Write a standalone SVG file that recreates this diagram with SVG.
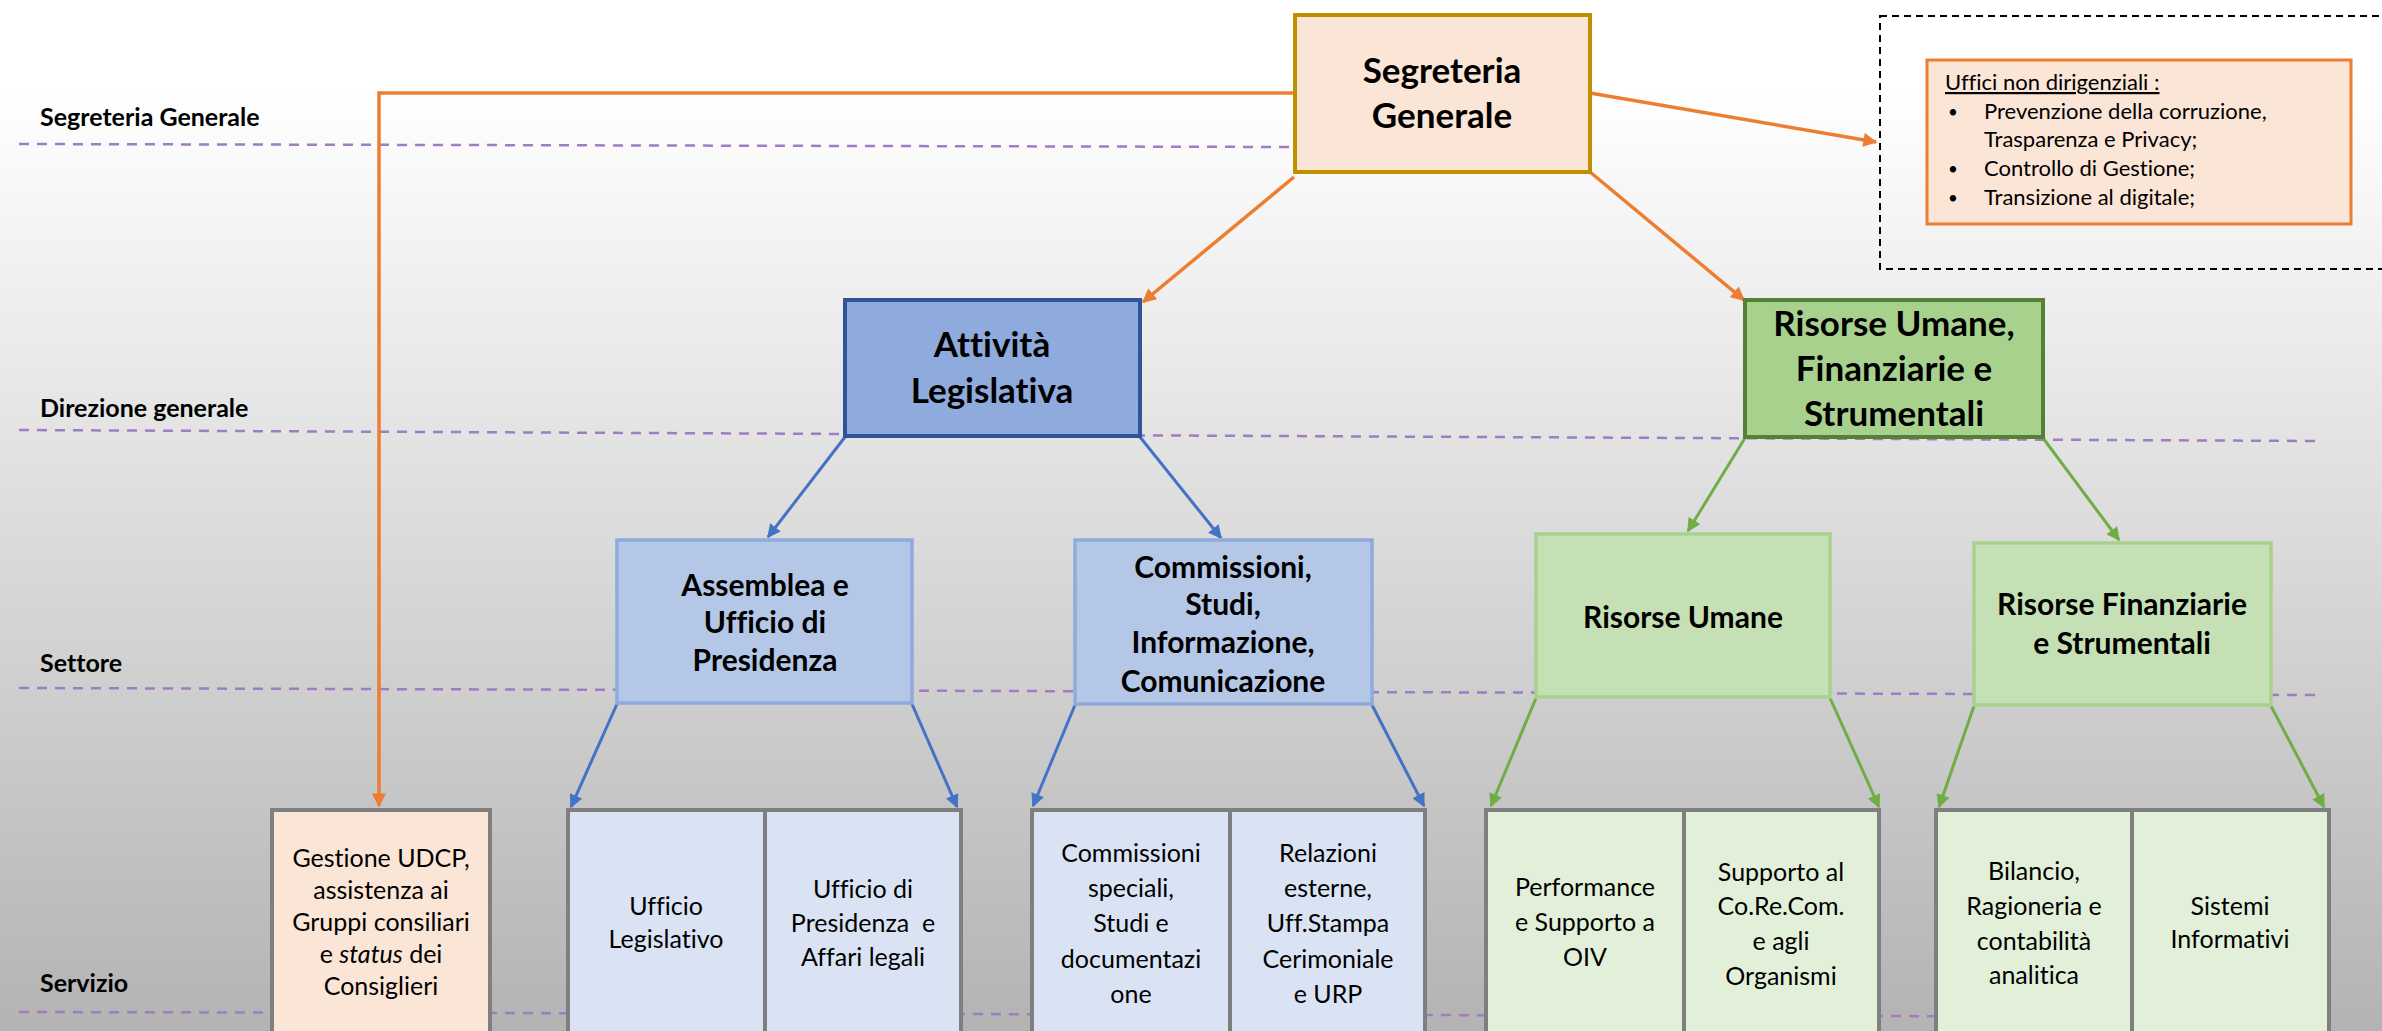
<svg xmlns="http://www.w3.org/2000/svg" width="2382" height="1031" viewBox="0 0 2382 1031">
<defs>
<linearGradient id="bg" x1="0" y1="0" x2="0" y2="1">
<stop offset="0" stop-color="#ffffff"/>
<stop offset="1" stop-color="#b3b3b3"/>
</linearGradient>
<marker id="aO" viewBox="0 0 10 10" refX="9" refY="5" markerWidth="4.5" markerHeight="4" orient="auto" markerUnits="strokeWidth"><path d="M0,0 L10,5 L0,10 z" fill="#ED7D31"/></marker>
<marker id="aB" viewBox="0 0 10 10" refX="9" refY="5" markerWidth="5" markerHeight="4.5" orient="auto" markerUnits="strokeWidth"><path d="M0,0 L10,5 L0,10 z" fill="#4472C4"/></marker>
<marker id="aG" viewBox="0 0 10 10" refX="9" refY="5" markerWidth="5" markerHeight="4.5" orient="auto" markerUnits="strokeWidth"><path d="M0,0 L10,5 L0,10 z" fill="#70AD47"/></marker>
</defs>
<style>
text{font-family:Lato,"Liberation Sans",sans-serif;fill:#000;font-variant-ligatures:none;font-feature-settings:"liga" 0,"dlig" 0}
.lvl{font-weight:700;font-size:25px}
.t1{font-weight:700;font-size:35px;text-anchor:middle}
.t2{font-weight:700;font-size:30px;text-anchor:middle}
.t3{font-weight:400;font-size:25px;text-anchor:middle}
.t4{font-weight:400;font-size:22px}
.bu{font-weight:400;font-size:17px}
.dl{stroke:#A07CC5;stroke-width:2.5;stroke-dasharray:10 8;fill:none}
.co{stroke:#ED7D31;stroke-width:3.5;fill:none;marker-end:url(#aO)}
.cb{stroke:#4472C4;stroke-width:3;fill:none;marker-end:url(#aB)}
.cg{stroke:#70AD47;stroke-width:3;fill:none;marker-end:url(#aG)}
.sv{stroke:#7F7F7F;stroke-width:4}
.pk{fill:#FBE5D6}
.lb{fill:#DAE3F3}
.lg{fill:#E2F0D9}
.st-b{fill:#B4C7E7;stroke:#8FAADC;stroke-width:3.5}
.st-g{fill:#C5E0B4;stroke:#A9D18E;stroke-width:3.5}
</style>
<rect x="0" y="0" width="2382" height="1031" fill="#ffffff"/>
<rect x="0" y="93" width="2382" height="938" fill="url(#bg)"/>

<g id="levels">
<text class="lvl" x="40" y="126">Segreteria Generale</text>
<text class="lvl" x="40" y="417">Direzione generale</text>
<text class="lvl" x="40" y="672">Settore</text>
<text class="lvl" x="40" y="992">Servizio</text>
<line class="dl" x1="19" y1="144" x2="1295" y2="147"/>
<line class="dl" x1="19" y1="430" x2="2316" y2="441"/>
<line class="dl" x1="19" y1="688" x2="2316" y2="695"/>
<line class="dl" x1="19" y1="1012" x2="2316" y2="1017"/>
</g>

<g id="connectors">
<path class="co" d="M1295,93 H379 V806"/>
<line class="co" x1="1590" y1="93" x2="1876" y2="142"/>
<line class="co" x1="1294" y1="177" x2="1143" y2="302"/>
<line class="co" x1="1590" y1="172" x2="1744" y2="300"/>
<line class="cb" x1="845" y1="437" x2="768" y2="537"/>
<line class="cb" x1="1140" y1="437" x2="1221" y2="538"/>
<line class="cb" x1="617" y1="704" x2="571" y2="807"/>
<line class="cb" x1="912" y1="704" x2="957" y2="807"/>
<line class="cb" x1="1075" y1="705" x2="1033" y2="806"/>
<line class="cb" x1="1372" y1="705" x2="1424" y2="806"/>
<line class="cg" x1="1745" y1="438" x2="1688" y2="531"/>
<line class="cg" x1="2043" y1="438" x2="2119" y2="540"/>
<line class="cg" x1="1536" y1="698" x2="1491" y2="806"/>
<line class="cg" x1="1830" y1="698" x2="1879" y2="807"/>
<line class="cg" x1="1974" y1="706" x2="1939" y2="807"/>
<line class="cg" x1="2271" y1="706" x2="2324" y2="807"/>
</g>

<g id="segreteria-generale">
<rect x="1295" y="15" width="295" height="157" fill="#FBE5D6" stroke="#BF9000" stroke-width="4"/>
<text class="t1" x="1442" y="83">Segreteria</text>
<text class="t1" x="1442" y="128">Generale</text>
</g>

<g id="uffici-non-dirigenziali">
<rect x="1880" y="16" width="540" height="253" fill="none" stroke="#000" stroke-width="2" stroke-dasharray="7 5"/>
<rect x="1927" y="60" width="424" height="164" fill="#FBE5D6" stroke="#ED7D31" stroke-width="3"/>
<text class="t4" x="1945" y="90" text-decoration="underline">Uffici non dirigenziali :</text>
<text class="bu" x="1948" y="118">•</text>
<text class="t4" x="1984" y="119">Prevenzione della corruzione,</text>
<text class="t4" x="1984" y="147">Trasparenza e Privacy;</text>
<text class="bu" x="1948" y="175">•</text>
<text class="t4" x="1984" y="176">Controllo di Gestione;</text>
<text class="bu" x="1948" y="204">•</text>
<text class="t4" x="1984" y="205">Transizione al digitale;</text>
</g>

<g id="attivita-legislativa">
<rect x="845" y="300" width="295" height="136" fill="#8FAADC" stroke="#2F5597" stroke-width="4"/>
<text class="t1" x="992" y="357">Attività</text>
<text class="t1" x="992" y="403">Legislativa</text>
</g>

<g id="risorse-umane-finanziarie-strumentali">
<rect x="1745" y="300" width="298" height="137" fill="#A9D18E" stroke="#548235" stroke-width="4"/>
<text class="t1" x="1894" y="336">Risorse Umane,</text>
<text class="t1" x="1894" y="381">Finanziarie e</text>
<text class="t1" x="1894" y="426">Strumentali</text>
</g>

<g id="assemblea-ufficio-presidenza">
<rect class="st-b" x="617" y="540" width="295" height="163"/>
<text class="t2" x="765" y="596">Assemblea e</text>
<text class="t2" x="765" y="633">Ufficio di</text>
<text class="t2" x="765" y="671">Presidenza</text>
</g>

<g id="commissioni-studi">
<rect class="st-b" x="1075" y="540" width="297" height="164"/>
<text class="t2" x="1223" y="578">Commissioni,</text>
<text class="t2" x="1223" y="615">Studi,</text>
<text class="t2" x="1223" y="653">Informazione,</text>
<text class="t2" x="1223" y="692">Comunicazione</text>
</g>

<g id="risorse-umane">
<rect class="st-g" x="1536" y="534" width="294" height="163"/>
<text class="t2" x="1683" y="628">Risorse Umane</text>
</g>

<g id="risorse-finanziarie-strumentali">
<rect class="st-g" x="1974" y="543" width="297" height="162"/>
<text class="t2" x="2122" y="615">Risorse Finanziarie</text>
<text class="t2" x="2122" y="654">e Strumentali</text>
</g>

<g id="gestione-udcp">
<rect class="sv pk" x="272" y="810" width="218" height="240"/>
<text class="t3" x="381" y="867">Gestione UDCP,</text>
<text class="t3" x="381" y="899">assistenza ai</text>
<text class="t3" x="381" y="931">Gruppi consiliari</text>
<text class="t3" x="381" y="963">e <tspan font-style="italic">status</tspan> dei</text>
<text class="t3" x="381" y="995">Consiglieri</text>
</g>

<g id="ufficio-legislativo">
<rect class="sv lb" x="568" y="810" width="197" height="240"/>
<text class="t3" x="666" y="915">Ufficio</text>
<text class="t3" x="666" y="948">Legislativo</text>
</g>

<g id="ufficio-presidenza-affari-legali">
<rect class="sv lb" x="765" y="810" width="196" height="240"/>
<text class="t3" x="863" y="898">Ufficio di</text>
<text class="t3" x="863" y="932" xml:space="preserve">Presidenza  e</text>
<text class="t3" x="863" y="966">Affari legali</text>
</g>

<g id="commissioni-speciali">
<rect class="sv lb" x="1032" y="810" width="198" height="240"/>
<text class="t3" x="1131" y="862">Commissioni</text>
<text class="t3" x="1131" y="897">speciali,</text>
<text class="t3" x="1131" y="932">Studi e</text>
<text class="t3" x="1131" y="968">documentazi</text>
<text class="t3" x="1131" y="1003">one</text>
</g>

<g id="relazioni-esterne">
<rect class="sv lb" x="1230" y="810" width="195" height="240"/>
<text class="t3" x="1328" y="862">Relazioni</text>
<text class="t3" x="1328" y="897">esterne,</text>
<text class="t3" x="1328" y="932">Uff.Stampa</text>
<text class="t3" x="1328" y="968">Cerimoniale</text>
<text class="t3" x="1328" y="1003">e URP</text>
</g>

<g id="performance-oiv">
<rect class="sv lg" x="1486" y="810" width="198" height="240"/>
<text class="t3" x="1585" y="896">Performance</text>
<text class="t3" x="1585" y="931">e Supporto a</text>
<text class="t3" x="1585" y="966">OIV</text>
</g>

<g id="supporto-corecom">
<rect class="sv lg" x="1684" y="810" width="195" height="240"/>
<text class="t3" x="1781" y="881">Supporto al</text>
<text class="t3" x="1781" y="915">Co.Re.Com.</text>
<text class="t3" x="1781" y="950">e agli</text>
<text class="t3" x="1781" y="985">Organismi</text>
</g>

<g id="bilancio-ragioneria">
<rect class="sv lg" x="1936" y="810" width="196" height="240"/>
<text class="t3" x="2034" y="880">Bilancio,</text>
<text class="t3" x="2034" y="915">Ragioneria e</text>
<text class="t3" x="2034" y="950">contabilità</text>
<text class="t3" x="2034" y="984">analitica</text>
</g>

<g id="sistemi-informativi">
<rect class="sv lg" x="2132" y="810" width="197" height="240"/>
<text class="t3" x="2230" y="915">Sistemi</text>
<text class="t3" x="2230" y="948">Informativi</text>
</g>
</svg>
